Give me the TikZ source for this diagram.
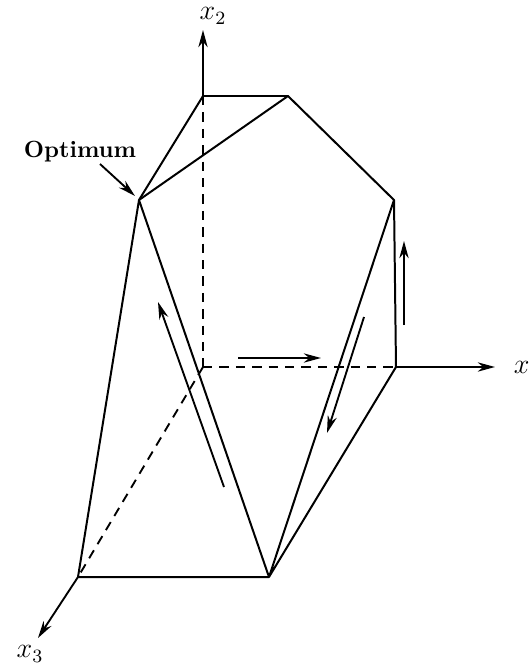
\documentclass[tikz,border=0pt]{standalone}
\usepackage{amsmath}
\usetikzlibrary{arrows.meta}

\begin{document}
\begin{tikzpicture}[
      x=0.015cm, y=-0.015cm,
      edge/.style={line width=0.85pt, line join=round},
      hidden/.style={line width=0.8pt, dash pattern=on 4pt off 3pt},
      axis/.style={line width=0.8pt, -{Stealth[length=2.6mm, width=1.4mm]}},
      move/.style={line width=0.8pt, -{Stealth[length=2.6mm, width=1.4mm]}},
      lbl/.style={font=\large, inner sep=1pt}
    ]
    \useasboundingbox (0,0) rectangle (531,670);

    % vertices of the polytope
    \coordinate (O) at (203,367);
    \coordinate (A) at (203,96);
    \coordinate (B) at (288,96);
    \coordinate (C) at (394,200);
    \coordinate (D) at (396,367);
    \coordinate (P) at (139,200);
    \coordinate (E) at (78,577);
    \coordinate (F) at (269,577);

    % axis ends
    \coordinate (x2end) at (203,30);
    \coordinate (x1end) at (495,367);
    \coordinate (x3end) at (38,638);

    \node[lbl] (xtwo) at (213,16) {$x_2$};
    \node[lbl, anchor=west] (xone) at (511,370) {$x_1$};
    \node[lbl] (xthree) at (30,654) {$x_3$};
    \node (opt) at (80,152) {\textbf{Optimum}};

    % hidden edges
    \draw[hidden] (A) -- (O);
    \draw[hidden] (O) -- (D);
    \draw[hidden] (O) -- (E);

    % axes
    \draw[axis] (A) -- (x2end);
    \draw[axis] (D) -- (x1end);
    \draw[axis] (E) -- (x3end);

    % visible edges
    \draw[edge] (P) -- (A) -- (B) -- (C) -- (D) -- (F) -- (E) -- (P) -- (F) -- (C);
    \draw[edge] (P) -- (B);

    % path of the method
    \coordinate (m1a) at (224,487);
    \coordinate (m1b) at (158,302);
    \coordinate (m2a) at (238,358);
    \coordinate (m2b) at (321,358);
    \coordinate (m3a) at (364,317);
    \coordinate (m3b) at (327,433);
    \coordinate (m4a) at (404,325);
    \coordinate (m4b) at (404,241);
    \coordinate (o1) at (100,164);
    \coordinate (o2) at (135,196);

    \draw[move] (m1a) -- (m1b);
    \draw[move] (m2a) -- (m2b);
    \draw[move] (m3a) -- (m3b);
    \draw[move] (m4a) -- (m4b);
    \draw[move] (o1) -- (o2);
  \end{tikzpicture}
\end{document}
